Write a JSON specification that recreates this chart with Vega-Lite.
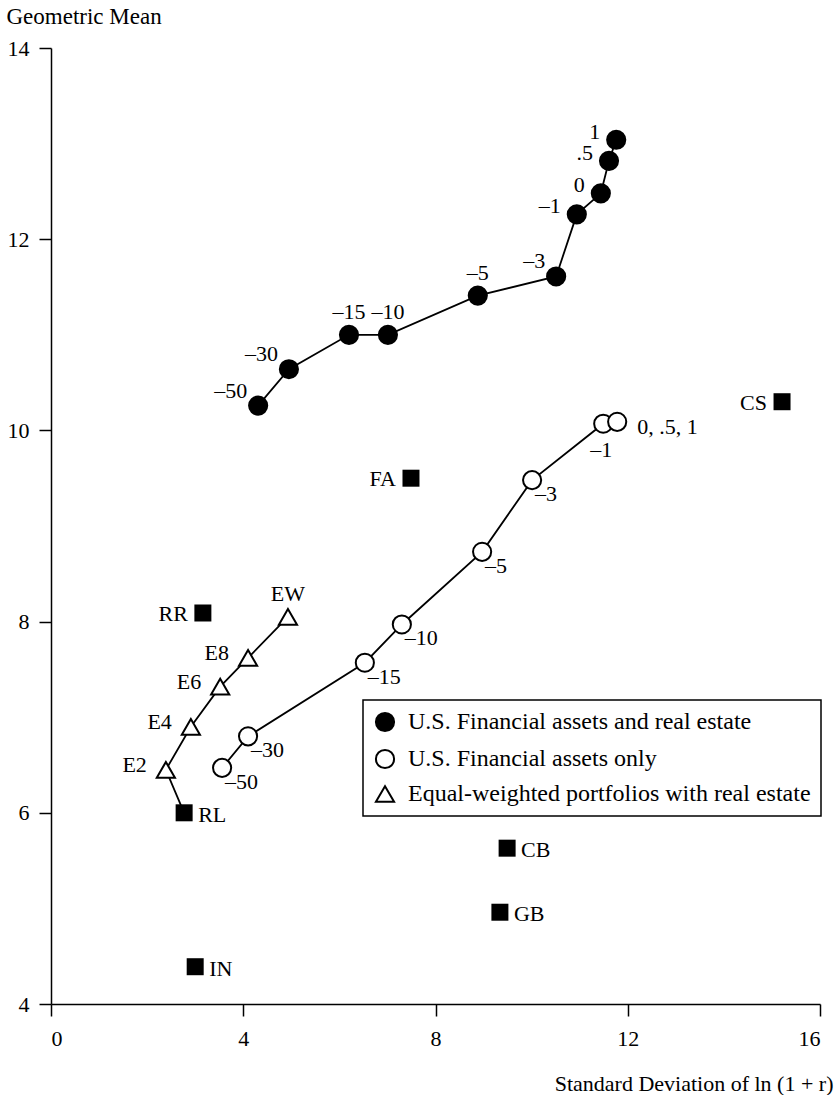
{
  "$schema": "https://vega.github.io/schema/vega-lite/v6.json",
  "width": 769,
  "height": 956,
  "autosize": {"type": "none"},
  "padding": {"left": 51, "top": 48, "right": 16, "bottom": 91},
  "background": "white",
  "config": {
    "view": {"stroke": null},
    "font": "Liberation Serif",
    "axis": {
      "domainColor": "black", "domainWidth": 1.5,
      "tickColor": "black", "tickWidth": 1.5, "tickSize": 12,
      "labelFont": "Liberation Serif", "labelFontSize": 22, "labelColor": "black",
      "titleFont": "Liberation Serif", "titleFontSize": 22, "titleFontWeight": "normal", "titleColor": "black",
      "grid": false
    },
    "legend": {
      "orient": "none", "legendX": 312, "legendY": 652,
      "strokeColor": "black", "strokeWidth": 1.5, "padding": 10,
      "rowPadding": 9, "labelFont": "Liberation Serif", "labelFontSize": 24,
      "labelColor": "black", "labelOffset": 11, "labelLimit": 500,
      "symbolSize": 330, "symbolStrokeWidth": 2,
      "fillColor": "white"
    }
  },
  "data": {
    "values": [
      {"s": "U.S. Financial assets and real estate", "label": "–50", "sd": 4.31, "gm": 10.26, "k": 0, "path": "A"},
      {"s": "U.S. Financial assets and real estate", "label": "–30", "sd": 4.95, "gm": 10.64, "k": 1, "path": "A"},
      {"s": "U.S. Financial assets and real estate", "label": "–15", "sd": 6.20, "gm": 11.00, "k": 2, "path": "A"},
      {"s": "U.S. Financial assets and real estate", "label": "–10", "sd": 7.01, "gm": 11.00, "k": 3, "path": "A"},
      {"s": "U.S. Financial assets and real estate", "label": "–5", "sd": 8.88, "gm": 11.41, "k": 4, "path": "A"},
      {"s": "U.S. Financial assets and real estate", "label": "–3", "sd": 10.51, "gm": 11.61, "k": 5, "path": "A"},
      {"s": "U.S. Financial assets and real estate", "label": "–1", "sd": 10.94, "gm": 12.26, "k": 6, "path": "A"},
      {"s": "U.S. Financial assets and real estate", "label": "0", "sd": 11.44, "gm": 12.48, "k": 7, "path": "A"},
      {"s": "U.S. Financial assets and real estate", "label": ".5", "sd": 11.61, "gm": 12.82, "k": 8, "path": "A"},
      {"s": "U.S. Financial assets and real estate", "label": "1", "sd": 11.76, "gm": 13.04, "k": 9, "path": "A"},
      {"s": "U.S. Financial assets only", "label": "–50", "sd": 3.56, "gm": 6.47, "k": 0, "path": "B"},
      {"s": "U.S. Financial assets only", "label": "–30", "sd": 4.10, "gm": 6.80, "k": 1, "path": "B"},
      {"s": "U.S. Financial assets only", "label": "–15", "sd": 6.53, "gm": 7.57, "k": 2, "path": "B"},
      {"s": "U.S. Financial assets only", "label": "–10", "sd": 7.30, "gm": 7.97, "k": 3, "path": "B"},
      {"s": "U.S. Financial assets only", "label": "–5", "sd": 8.97, "gm": 8.73, "k": 4, "path": "B"},
      {"s": "U.S. Financial assets only", "label": "–3", "sd": 10.01, "gm": 9.48, "k": 5, "path": "B"},
      {"s": "U.S. Financial assets only", "label": "–1", "sd": 11.49, "gm": 10.07, "k": 6, "path": "B"},
      {"s": "U.S. Financial assets only", "label": "0, .5, 1", "sd": 11.78, "gm": 10.09, "k": 7, "path": "B"},
      {"s": "Equal-weighted portfolios with real estate", "label": "E2", "sd": 2.39, "gm": 6.45, "k": 1, "path": "C"},
      {"s": "Equal-weighted portfolios with real estate", "label": "E4", "sd": 2.91, "gm": 6.90, "k": 2, "path": "C"},
      {"s": "Equal-weighted portfolios with real estate", "label": "E6", "sd": 3.52, "gm": 7.32, "k": 3, "path": "C"},
      {"s": "Equal-weighted portfolios with real estate", "label": "E8", "sd": 4.10, "gm": 7.62, "k": 4, "path": "C"},
      {"s": "Equal-weighted portfolios with real estate", "label": "EW", "sd": 4.93, "gm": 8.05, "k": 5, "path": "C"},
      {"s": "Asset class", "label": "RL", "sd": 2.77, "gm": 6.00, "k": 0, "path": "C"},
      {"s": "Asset class", "label": "RR", "sd": 3.16, "gm": 8.09, "k": 0, "path": null},
      {"s": "Asset class", "label": "FA", "sd": 7.49, "gm": 9.50, "k": 0, "path": null},
      {"s": "Asset class", "label": "CS", "sd": 15.21, "gm": 10.30, "k": 0, "path": null},
      {"s": "Asset class", "label": "CB", "sd": 9.49, "gm": 5.63, "k": 0, "path": null},
      {"s": "Asset class", "label": "GB", "sd": 9.34, "gm": 4.96, "k": 0, "path": null},
      {"s": "Asset class", "label": "IN", "sd": 3.00, "gm": 4.39, "k": 0, "path": null}
    ]
  },
  "encoding": {
    "x": {
      "field": "sd", "type": "quantitative",
      "scale": {"domain": [0, 16], "nice": false, "zero": false},
      "axis": {
        "values": [0, 4, 8, 12, 16], "labelPadding": 12,
        "title": "Standard Deviation of ln (1 + r)",
        "titleAnchor": "end", "titleAlign": "right", "titleBaseline": "alphabetic",
        "titleX": 782, "titleY": 86
      }
    },
    "y": {
      "field": "gm", "type": "quantitative",
      "scale": {"domain": [4, 14], "nice": false, "zero": false},
      "axis": {
        "values": [4, 6, 8, 10, 12, 14], "labelPadding": 10,
        "title": "Geometric Mean", "titleAngle": 0, "titleFontSize": 23,
        "titleAlign": "left", "titleBaseline": "alphabetic",
        "titleX": -45, "titleY": -25
      }
    }
  },
  "layer": [
    {
      "transform": [{"filter": "datum.path != null"}],
      "mark": {"type": "line", "color": "black", "strokeWidth": 1.8},
      "encoding": {
        "detail": {"field": "path"},
        "order": {"field": "k", "type": "quantitative"}
      }
    },
    {
      "transform": [{"filter": "datum.s !== 'Asset class'"}],
      "mark": {"type": "point", "strokeWidth": 2, "opacity": 1},
      "encoding": {
        "shape": {
          "field": "s", "type": "nominal",
          "scale": {
            "domain": ["U.S. Financial assets and real estate", "U.S. Financial assets only", "Equal-weighted portfolios with real estate"],
            "range": ["circle", "circle", "triangle-up"]
          },
          "legend": {"title": null}
        },
        "fill": {
          "field": "s", "type": "nominal",
          "scale": {
            "domain": ["U.S. Financial assets and real estate", "U.S. Financial assets only", "Equal-weighted portfolios with real estate"],
            "range": ["black", "white", "white"]
          },
          "legend": {"title": null}
        },
        "stroke": {
          "field": "s", "type": "nominal",
          "scale": {
            "domain": ["U.S. Financial assets and real estate", "U.S. Financial assets only", "Equal-weighted portfolios with real estate"],
            "range": ["black", "black", "black"]
          },
          "legend": {"title": null}
        },
        "size": {"value": 330}
      }
    },
    {
      "transform": [{"filter": "datum.s === 'Asset class'"}],
      "mark": {"type": "point", "shape": "square", "filled": true, "color": "black", "size": 289, "opacity": 1}
    },
    {
      "transform": [{"filter": "datum.s === 'U.S. Financial assets and real estate' && indexof(['1', '.5', '0', '–1'], datum.label) >= 0"}],
      "mark": {"type": "text", "align": "right", "dx": -16, "dy": -8, "fontSize": 22, "color": "black"},
      "encoding": {"text": {"field": "label"}}
    },
    {
      "transform": [{"filter": "datum.s === 'U.S. Financial assets and real estate' && indexof(['–3', '–30', '–50'], datum.label) >= 0"}],
      "mark": {"type": "text", "align": "right", "dx": -11, "dy": -15, "fontSize": 22, "color": "black"},
      "encoding": {"text": {"field": "label"}}
    },
    {
      "transform": [{"filter": "datum.s === 'U.S. Financial assets and real estate' && indexof(['–5', '–10', '–15'], datum.label) >= 0"}],
      "mark": {"type": "text", "align": "center", "dy": -23, "fontSize": 22, "color": "black"},
      "encoding": {"text": {"field": "label"}}
    },
    {
      "transform": [{"filter": "datum.s === 'U.S. Financial assets only' && datum.label === '0, .5, 1'"}],
      "mark": {"type": "text", "align": "left", "dx": 20, "dy": 5, "fontSize": 22, "color": "black"},
      "encoding": {"text": {"field": "label"}}
    },
    {
      "transform": [{"filter": "datum.s === 'U.S. Financial assets only' && datum.label === '–1'"}],
      "mark": {"type": "text", "align": "center", "dx": -2, "dy": 26, "fontSize": 22, "color": "black"},
      "encoding": {"text": {"field": "label"}}
    },
    {
      "transform": [{"filter": "datum.s === 'U.S. Financial assets only' && datum.label !== '–1' && datum.label !== '0, .5, 1'"}],
      "mark": {"type": "text", "align": "left", "dx": 3, "dy": 14, "fontSize": 22, "color": "black"},
      "encoding": {"text": {"field": "label"}}
    },
    {
      "transform": [{"filter": "datum.label === 'EW'"}],
      "mark": {"type": "text", "align": "center", "dy": -23, "fontSize": 22, "color": "black"},
      "encoding": {"text": {"field": "label"}}
    },
    {
      "transform": [{"filter": "datum.s === 'Equal-weighted portfolios with real estate' && datum.label !== 'EW'"}],
      "mark": {"type": "text", "align": "right", "dx": -19, "dy": -5, "fontSize": 22, "color": "black"},
      "encoding": {"text": {"field": "label"}}
    },
    {
      "transform": [{"filter": "indexof(['RR', 'FA', 'CS'], datum.label) >= 0"}],
      "mark": {"type": "text", "align": "right", "dx": -15, "dy": 1, "fontSize": 22, "color": "black"},
      "encoding": {"text": {"field": "label"}}
    },
    {
      "transform": [{"filter": "indexof(['RL', 'CB', 'GB', 'IN'], datum.label) >= 0"}],
      "mark": {"type": "text", "align": "left", "dx": 14, "dy": 2, "fontSize": 22, "color": "black"},
      "encoding": {"text": {"field": "label"}}
    }
  ]
}
